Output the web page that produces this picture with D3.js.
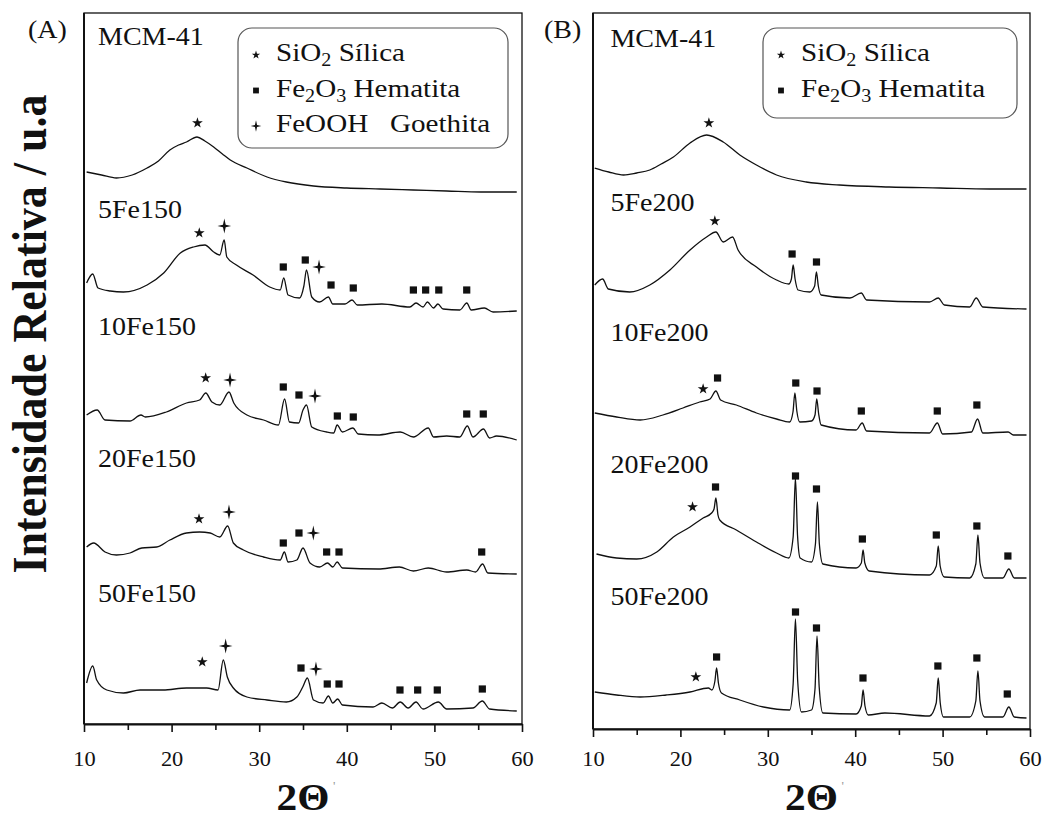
<!DOCTYPE html>
<html>
<head>
<meta charset="utf-8">
<script src="https://cdn.jsdelivr.net/npm/d3@7"></script>
<style>
  body { margin: 0; background: #fff; }
  text { font-family: "Liberation Serif", "Times New Roman", serif; fill: #111; }
</style>
</head>
<body>
<div id="chart"></div>
<script>
'use strict';

// ---- data (2θ in degrees, intensity in a.u.) ----
const xTicks = [10, 20, 30, 40, 50, 60];
const xMinor = [15, 25, 35, 45, 55];

const samplesA = ["MCM-41", "5Fe150", "10Fe150", "20Fe150", "50Fe150"];
const samplesB = ["MCM-41", "5Fe200", "10Fe200", "20Fe200", "50Fe200"];

// panel A patterns
const mcmA = [[10.3,552],[12,549],[13.7,546],[15.5,549],[17.2,556],[18.5,563],[19.8,574],[20.8,579],[21.7,582],[22.9,587],[23.8,583],[24.8,577],[25.8,570],[26.7,564],[28.6,556],[30.9,547],[33.1,542],[36.2,538],[40,536],[43.8,535],[47.6,534],[51.4,533],[55.3,532],[59.4,532]];
const fe5A = [[10.3,441],[11.0,450],[11.6,436],[13,433],[14.5,432],[17.2,439],[19.1,451],[21,471],[22.5,477],[23.8,479],[24.8,472],[25.5,469],[26.0,484],[26.3,467],[27.4,459],[29.3,449],[31.2,437],[32.4,434],[32.8,446],[33.3,429],[34.6,426],[35.1,438],[35.4,454],[36.0,427],[36.9,422],[37.9,427],[38.4,420],[39.8,420],[40.6,424],[41.2,419],[44,420],[47.2,417],[47.9,421],[48.7,417],[49.2,422],[49.9,416],[50.4,420],[51.0,415],[52.9,414],[53.7,421],[54.2,414],[55.7,416],[56.7,412],[59.4,413]];
const fe10A = [[10.3,309],[11.5,314],[12.4,304],[15.25,303],[16.5,309],[17.0,307],[19.4,312],[21.7,321],[23.2,324],[23.9,331],[24.6,322],[25.5,319],[26.55,332],[27.1,321],[28.6,309],[30.5,304],[32.2,299],[32.9,325],[33.45,302],[34.5,301],[35.0,314],[35.4,319],[36.0,297],[37.7,292],[38.5,291],[38.9,299],[39.5,292],[40.7,296],[41.3,290],[43.5,289],[46.1,292],[47.6,287],[49.3,296],[49.9,287],[51.4,288],[52.9,287],[53.76,298],[54.4,287],[55.6,295],[56.3,286],[57.1,288],[59.4,284]];
const fe20A = [[10.3,177],[11.1,181],[12.4,172],[13.7,169],[15.25,171],[16.6,176],[18.3,177],[19.8,184],[21.7,191],[23.2,192],[24.4,191],[25.5,187],[26.4,198],[27.05,181],[28.2,174],[30.5,167],[32.4,164],[32.87,172],[33.3,162],[34.3,164],[35.0,176],[35.8,161],[36.9,157],[37.8,161],[38.4,157],[38.9,162],[39.5,156],[43.6,155],[46.0,157],[47.6,153],[49.3,156],[51.4,152],[53.7,154],[54.7,152],[55.5,160],[56.1,151],[59.4,150]];
const fe50A = [[10.3,41],[11.0,58],[11.45,44],[12.6,34],[14.5,31],[16.4,34],[19.0,34],[21.7,36],[24.0,36],[25.3,34],[25.9,64],[26.36,47],[27.05,36],[28.6,27],[30.9,24],[33.1,22],[34.3,27],[34.97,37],[35.5,46],[36.2,24],[37.3,21],[37.9,28],[38.4,21],[38.96,25],[39.5,19],[43.0,17],[44.0,21],[45.2,16],[46.1,22],[47.0,16],[47.9,22],[48.7,15],[50.45,22],[51.4,15],[54.4,16],[55.47,23],[56.3,15],[59.4,13]];

// panel B patterns
const mcmB = [[10.2,561],[11.8,557],[13.5,554],[15,556],[16.5,559],[17.8,565],[19.2,572],[21.1,586],[23.0,594],[24.9,587],[26.8,574],[28.7,564],[31.0,554],[34.4,547],[38.2,544],[43.9,542],[49.7,541],[55.4,540],[59.6,540]];
const fe5B = [[10.2,444],[11.1,450],[11.75,440],[14.2,437],[16.5,444],[18.8,459],[21.1,479],[23.0,492],[24.06,497],[24.9,487],[25.97,492],[26.6,479],[28.7,462],[31.0,449],[32.4,445],[32.7,450],[32.9,464],[33.12,450],[33.46,439],[34.8,437],[35.36,443],[35.56,457],[35.78,443],[36.1,434],[39.4,431],[40.7,436],[41.3,429],[48.5,427],[49.5,431],[50.2,424],[53.1,422],[53.85,431],[54.6,422],[59.6,420]];
const fe10B = [[10.2,316],[12.7,312],[15.4,309],[18.0,314],[20.3,321],[22.2,327],[23.4,330],[24.06,338],[24.6,329],[26.4,324],[28.7,316],[31.0,310],[32.5,307],[32.88,317],[33.1,336],[33.32,318],[33.66,307],[35.0,308],[35.4,314],[35.6,330],[35.82,315],[36.1,304],[40.1,299],[40.8,306],[41.3,298],[48.5,296],[49.4,306],[50.0,295],[53.3,297],[54.0,310],[54.6,296],[57.5,297],[58.1,294],[59.6,294]];
const fe20B = [[10.4,175],[12.7,171],[15.0,170],[17.3,177],[19.2,192],[21.1,202],[22.6,211],[23.57,216],[23.85,220],[24.06,231],[24.3,214],[24.5,209],[26.4,199],[28.7,187],[31.0,176],[32.4,171],[32.9,192],[33.16,251],[33.4,194],[33.7,171],[35.0,167],[35.45,185],[35.68,227],[35.9,185],[36.3,165],[40.1,161],[40.7,166],[40.9,179],[41.1,166],[41.6,158],[48.5,154],[49.28,163],[49.5,183],[49.72,163],[50.2,152],[53.1,151],[53.8,165],[54.04,194],[54.28,166],[54.8,151],[56.9,151],[57.58,160],[58.2,151],[59.6,151]];
const fe50B = [[10.2,37],[12.7,34],[15.4,32],[18.4,34],[21.1,37],[23.2,41],[23.6,39],[23.95,48],[24.14,61],[24.35,46],[24.7,36],[26.8,29],[29.5,22],[32.5,19],[32.9,45],[33.16,110],[33.42,48],[33.85,17],[35.0,19],[35.4,40],[35.63,93],[35.88,42],[36.3,16],[40.1,15],[40.7,23],[40.9,39],[41.12,23],[41.5,14],[43.4,16],[48.5,13],[49.27,26],[49.5,51],[49.73,26],[50.1,12],[53.1,12],[53.8,28],[54.04,58],[54.28,28],[54.8,12],[56.9,12],[57.58,22],[58.2,12],[59.6,11]];

// phase markers: [2θ, level, phase]
const markersA = [
  [22.95,601,"star"],
  [23.16,491,"star"],[26.02,498,"cross"],[32.75,457,"sq"],[35.26,464,"sq"],[36.83,457,"cross"],[38.2,439,"sq"],[40.74,436,"sq"],[47.6,434,"sq"],[49.0,434,"sq"],[50.5,434,"sq"],[53.69,434,"sq"],
  [23.89,346,"star"],[26.67,344,"cross"],[32.75,337,"sq"],[34.54,329,"sq"],[36.37,328,"cross"],[38.92,308,"sq"],[40.74,307,"sq"],[53.69,310,"sq"],[55.58,310,"sq"],
  [23.13,205,"star"],[26.55,212,"cross"],[32.75,181,"sq"],[34.54,191,"sq"],[36.18,191,"cross"],[37.7,172,"sq"],[39.11,172,"sq"],[55.4,172,"sq"],
  [23.5,62,"star"],[26.17,78,"cross"],[34.77,56,"sq"],[36.48,55,"cross"],[37.77,40,"sq"],[39.11,40,"sq"],[46.07,34,"sq"],[48.09,34,"sq"],[50.33,34,"sq"],[55.47,35,"sq"]
];
const markersB = [
  [23.26,606,"star"],
  [23.94,508,"star"],[32.78,475,"sq"],[35.57,467,"sq"],
  [22.6,340,"star"],[24.25,351,"sq"],[33.2,346,"sq"],[35.63,338,"sq"],[40.7,318,"sq"],[49.39,318,"sq"],[53.92,324,"sq"],
  [21.39,222,"star"],[24.02,242,"sq"],[33.17,253,"sq"],[35.57,240,"sq"],[40.82,190,"sq"],[49.28,194,"sq"],[53.92,203,"sq"],[57.47,173,"sq"],
  [21.77,52,"star"],[24.14,72,"sq"],[33.17,117,"sq"],[35.57,101,"sq"],[40.89,51,"sq"],[49.46,63,"sq"],[53.92,71,"sq"],[57.4,35,"sq"]
];

const legendA = [["star","SiO","2"," Sílica",""],["sq","Fe","2","O","3"," Hematita"],["cross","FeOOH   Goethita"]];
const legendB = [["star","SiO","2"," Sílica",""],["sq","Fe","2","O","3"," Hematita"]];

// ---- layout ----
const W = 1047, H = 819, SX = 1.12;
const labelLevelA = [679, 506, 389, 257, 122];
const labelLevelB = [682, 518, 388, 256, 124];

const svg = d3.select("#chart").append("svg")
  .attr("width", W).attr("height", H)
  .attr("viewBox", `0 0 ${W} ${H}`);
svg.append("rect").attr("width", W).attr("height", H).attr("fill", "#fff");

// 4-point star used for goethite
const sparkle = {
  draw(ctx, size) {
    const r = Math.sqrt(size) * 0.72, i = r * 0.2;
    ctx.moveTo(0, -r * 1.08); ctx.lineTo(i, -i); ctx.lineTo(r, 0); ctx.lineTo(i, i);
    ctx.lineTo(0, r * 1.08); ctx.lineTo(-i, i); ctx.lineTo(-r, 0); ctx.lineTo(-i, -i);
    ctx.closePath();
  }
};
const symType = {star: d3.symbolStar, sq: d3.symbolSquare, cross: sparkle};
const symSize = {star: 36, sq: 52, cross: 90};
const legSize = {star: 22, sq: 34, cross: 55};

function addText(g, x, y, str, size, weight) {
  return g.append("text")
    .attr("transform", `translate(${x},${y}) scale(${SX},1)`)
    .style("font-size", size + "px")
    .style("font-weight", weight || "normal")
    .style("white-space", "pre")
    .text(str);
}

function drawPanel(p) {
  const g = svg.append("g");
  const x = d3.scaleLinear().domain([10, 60]).range([p.x0, p.x1]);
  const y = d3.scaleLinear().domain([0, p.y1 - p.y0]).range([p.y1, p.y0]);

  // frame
  g.append("rect").attr("x", p.x0).attr("y", p.y0)
    .attr("width", p.x1 - p.x0).attr("height", p.y1 - p.y0)
    .attr("fill", "none").attr("stroke", "#111").attr("stroke-width", 1.3);
  g.append("line").attr("x1", p.x0).attr("x2", p.x0).attr("y1", p.y0).attr("y2", p.y1)
    .attr("stroke", "#111").attr("stroke-width", 2);

  // bottom axis
  const pad = 766 - p.y1 - 8 - 14;
  const ax = g.append("g").attr("transform", `translate(0,${p.y1})`)
    .call(d3.axisBottom(x).tickValues(xTicks).tickSize(8).tickPadding(pad).tickSizeOuter(0));
  ax.select(".domain").attr("stroke", "#111").attr("stroke-width", 2);
  ax.selectAll(".tick line").attr("stroke", "#111").attr("stroke-width", 1.6);
  ax.selectAll("text").attr("transform", `scale(${SX},1)`)
    .style("font-size", "20px").style("font-family", "Liberation Serif, serif").attr("fill", "#111");
  const mn = g.append("g").attr("transform", `translate(0,${p.y1})`)
    .call(d3.axisBottom(x).tickValues(xMinor).tickSize(6).tickFormat(""));
  mn.select(".domain").remove();
  mn.selectAll(".tick line").attr("stroke", "#111").attr("stroke-width", 1.6);

  // axis title
  const xc = (p.x0 + p.x1) / 2;
  addText(g, xc, 810, "2Θ", 37, "bold").attr("text-anchor", "middle");
  addText(g, xc + 30, 790, "'", 12).style("fill", "#999");

  // patterns
  const line = d3.line().x(d => x(d[0])).y(d => y(d[1])).curve(d3.curveMonotoneX);
  g.selectAll("path.xrd").data(p.series).join("path")
    .attr("class", "xrd")
    .attr("d", line)
    .attr("fill", "none").attr("stroke", "#111").attr("stroke-width", 1.3)
    .attr("stroke-linejoin", "round");

  // sample names
  p.names.forEach((n, i) => addText(g, x(p.labelX), y(p.levels[i]), n, 25));

  // phase markers
  g.selectAll("path.mk").data(p.markers).join("path")
    .attr("class", "mk")
    .attr("transform", d => `translate(${x(d[0])},${y(d[1])})`)
    .attr("d", d => d3.symbol().type(symType[d[2]]).size(symSize[d[2]])())
    .attr("fill", "#111");

  // legend
  const L = p.legend;
  g.append("rect").attr("x", L.x).attr("y", L.y).attr("width", L.w).attr("height", L.h)
    .attr("rx", 14).attr("fill", "#fff").attr("stroke", "#555").attr("stroke-width", 1.2);
  p.legendRows.forEach((row, i) => {
    const cy = L.y + 27 + i * 35.5;
    g.append("path")
      .attr("transform", `translate(${L.x + 18},${cy})`)
      .attr("d", d3.symbol().type(symType[row[0]]).size(legSize[row[0]])())
      .attr("fill", "#111");
    const t = addText(g, L.x + 38, cy + 6, "", 26);
    row.slice(1).forEach((s, k) => {
      if (!s) return;
      const sub = /^\d$/.test(s);
      t.append("tspan").text(s)
        .attr("dy", sub ? 5 : (k > 0 && /^\d$/.test(row[k]) ? -5 : 0))
        .style("font-size", sub ? "18px" : "26px");
    });
  });

  addText(g, p.tagX, 38, p.tag, 25);
}

drawPanel({
  x0: 84, x1: 522, y0: 13, y1: 724, tag: "(A)", tagX: 28,
  series: [mcmA, fe5A, fe10A, fe20A, fe50A], names: samplesA, levels: labelLevelA, labelX: 11.6,
  markers: markersA, legendRows: legendA, legend: {x: 238, y: 28, w: 270, h: 120}
});
drawPanel({
  x0: 593, x1: 1030, y0: 13, y1: 729, tag: "(B)", tagX: 544,
  series: [mcmB, fe5B, fe10B, fe20B, fe50B], names: samplesB, levels: labelLevelB, labelX: 12.0,
  markers: markersB, legendRows: legendB, legend: {x: 763, y: 28, w: 254, h: 90}
});

// shared y title
svg.append("text")
  .attr("transform", `translate(46,334) scale(${SX},1) rotate(-90)`)
  .attr("text-anchor", "middle")
  .style("font-size", "44px").style("font-weight", "bold")
  .text("Intensidade Relativa / u.a");
</script>
</body>
</html>
